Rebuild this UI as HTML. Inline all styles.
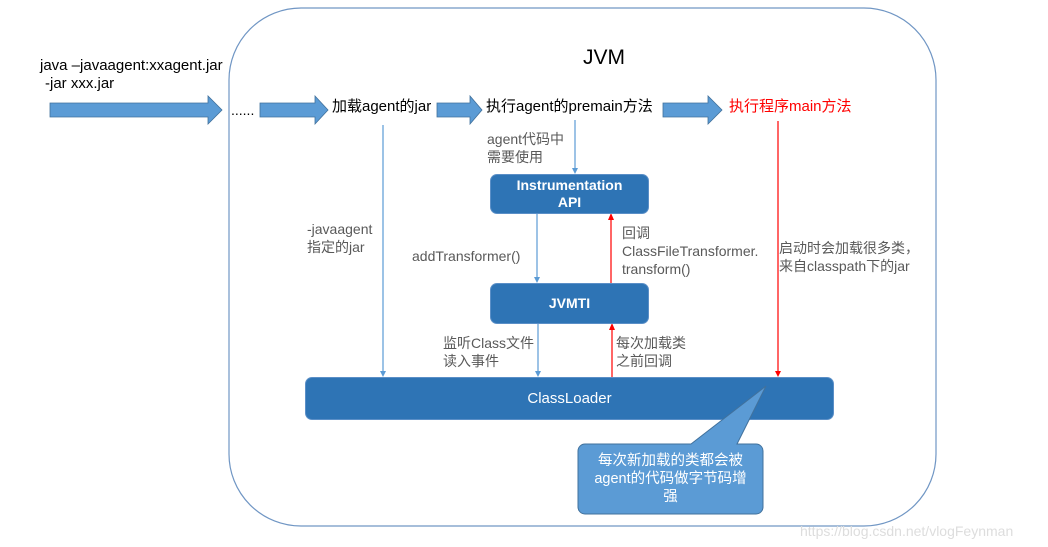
<!DOCTYPE html>
<html><head><meta charset="utf-8"><style>
body{margin:0;width:1048px;height:547px;background:#fff;position:relative;overflow:hidden;font-family:"Liberation Sans","Noto Sans CJK SC",sans-serif}
.t{position:absolute;white-space:nowrap;line-height:18px}
.g{color:#595959;font-size:14px}
.box{position:absolute;background:#2e74b5;border:1px solid #5b8fc7;border-radius:7px;color:#fff;font-size:14px;font-weight:bold;display:flex;align-items:center;justify-content:center;text-align:center;line-height:17px}
</style></head><body>
<svg width="1048" height="547" style="position:absolute;left:0;top:0">
<rect x="229" y="8" width="707" height="518" rx="72" fill="none" stroke="#7096c4" stroke-width="1.2"/>
<g fill="#5b9bd5" stroke="#41719c" stroke-width="0.8">
<path d="M50,103 H208 V96 L222,110 L208,124 V117 H50z"/>
<path d="M260,103 H315 V96 L328,110 L315,124 V117 H260z"/>
<path d="M437,103 H470 V96 L482,110 L470,124 V117 H437z"/>
<path d="M663,103 H708 V96 L722,110 L708,124 V117 H663z"/>
</g>
<g stroke-width="1.2">
<line x1="383" y1="125" x2="383" y2="372" stroke="#5b9bd5"/>
<line x1="575" y1="120" x2="575" y2="169" stroke="#5b9bd5"/>
<line x1="537" y1="213" x2="537" y2="278" stroke="#5b9bd5"/>
<line x1="538" y1="323" x2="538" y2="372" stroke="#5b9bd5"/>
<line x1="611" y1="283" x2="611" y2="219" stroke="#f00"/>
<line x1="612" y1="377" x2="612" y2="329" stroke="#f00"/>
<line x1="778" y1="121" x2="778" y2="372" stroke="#f00"/>
</g>
<g fill="#5b9bd5"><path d="M380,371 L386,371 L383,377z"/><path d="M572,168 L578,168 L575,174z"/><path d="M534,277 L540,277 L537,283z"/><path d="M535,371 L541,371 L538,377z"/></g>
<g fill="#f00"><path d="M608,220 L614,220 L611,213z"/><path d="M609,330 L615,330 L612,323z"/><path d="M775,371 L781,371 L778,377z"/></g>
</svg>
<div class="t" style="left:583px;top:49px;font-size:21px;color:#000">JVM</div>
<div class="t" style="left:40px;top:57px;font-size:15px">java –javaagent:xxagent.jar</div>
<div class="t" style="left:45px;top:75px;font-size:15px">-jar xxx.jar</div>
<div class="t" style="left:231px;top:101px;font-size:14px">......</div>
<div class="t" style="left:332px;top:98px;font-size:15px">加载agent的jar</div>
<div class="t" style="left:486px;top:98px;font-size:15px">执行agent的premain方法</div>
<div class="t" style="left:729px;top:98px;font-size:15px;color:#f00">执行程序main方法</div>
<div class="t g" style="left:487px;top:130px">agent代码中<br>需要使用</div>
<div class="t g" style="left:307px;top:220px">-javaagent<br>指定的jar</div>
<div class="t g" style="left:412px;top:247px">addTransformer()</div>
<div class="t g" style="left:622px;top:224px">回调<br>ClassFileTransformer.<br>transform()</div>
<div class="t g" style="left:779px;top:239px">启动时会加载很多类，<br>来自classpath下的jar</div>
<div class="t g" style="left:443px;top:334px">监听Class文件<br>读入事件</div>
<div class="t g" style="left:616px;top:334px">每次加载类<br>之前回调</div>
<div class="box" style="left:490px;top:174px;width:157px;height:38px">Instrumentation<br>API</div>
<div class="box" style="left:490px;top:283px;width:157px;height:39px">JVMTI</div>
<div class="box" style="left:305px;top:377px;width:527px;height:41px;font-weight:normal;font-size:15px">ClassLoader</div>
<svg width="1048" height="547" style="position:absolute;left:0;top:0">
<path d="M585,444 H691 L766,386 L737,444 H756 a7,7 0 0 1 7,7 V507 a7,7 0 0 1 -7,7 H585 a7,7 0 0 1 -7,-7 V451 a7,7 0 0 1 7,-7z" fill="#5b9bd5" stroke="#41719c" stroke-width="1"/>
</svg>
<div class="t" style="left:578px;top:452px;width:185px;text-align:center;color:#fff;font-size:14.5px;line-height:18px;white-space:normal">每次新加载的类都会被<br>agent的代码做字节码增<br>强</div>
<div class="t" style="left:800px;top:522px;font-size:14px;color:#ddd">https://blog.csdn.net/vlogFeynman</div>
</body></html>
